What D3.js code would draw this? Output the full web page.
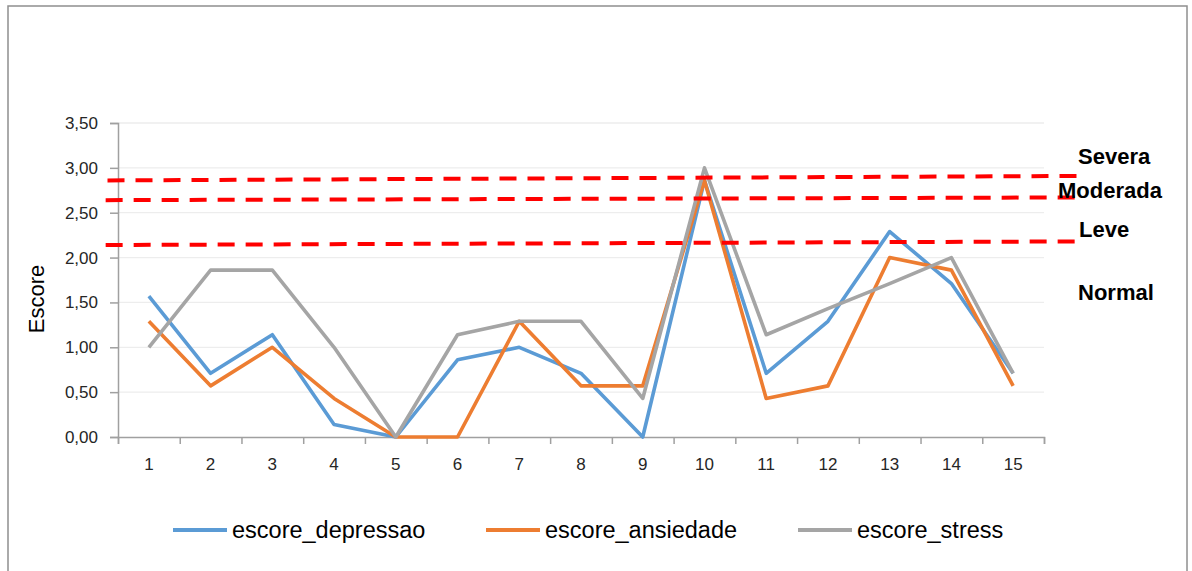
<!DOCTYPE html>
<html>
<head>
<meta charset="utf-8">
<script src="https://cdn.jsdelivr.net/npm/d3@7"></script>
<style>
  html, body { margin: 0; padding: 0; background: #fff; }
  svg { display: block; }
</style>
</head>
<body>
<svg id="chart" width="1192" height="571"></svg>
<script>
// Participants (x axis categories)
const categories = [1, 2, 3, 4, 5, 6, 7, 8, 9, 10, 11, 12, 13, 14, 15];

// DASS scores per participant
const depressao = [1.57, 0.71, 1.14, 0.14, 0.00, 0.86, 1.00, 0.71, 0.00, 2.86, 0.71, 1.29, 2.29, 1.71, 0.71];
const ansiedade = [1.29, 0.57, 1.00, 0.43, 0.00, 0.00, 1.29, 0.57, 0.57, 2.86, 0.43, 0.57, 2.00, 1.86, 0.57];
const stress    = [1.00, 1.86, 1.86, 1.00, 0.00, 1.14, 1.29, 1.29, 0.43, 3.00, 1.14, 1.43, 1.71, 2.00, 0.71];

const seriesNames = ["escore_depressao", "escore_ansiedade", "escore_stress"];
const seriesColors = ["#5B9BD5", "#ED7D31", "#A5A5A5"];

// Y axis tick values
const yTicks = [0, 0.5, 1.0, 1.5, 2.0, 2.5, 3.0, 3.5];

// Severity cut-off lines (hand-drawn, slightly tilted): value at left and right end,
// horizontal extent in category units
const cutNames  = ["Severa", "Moderada", "Leve"];
const cutStart  = [2.86, 2.64, 2.14];
const cutEnd    = [2.91, 2.67, 2.18];
const cutFrom   = [0.33, 0.30, 0.30];
const cutTo     = [16.05, 16.0, 16.0];

// Band labels on the right and the score level they sit at
const bandLabels = ["Severa", "Moderada", "Leve", "Normal"];
const bandLevels = [3.04, 2.66, 2.23, 1.53];
const bandOffset = [0, -20, 1, 0];

const svg = d3.select("#chart");
const W = 1192, H = 571;
const plot = { left: 118, right: 1044, top: 123, bottom: 437 };

// outer frame
svg.append("rect")
  .attr("x", 8).attr("y", 6)
  .attr("width", 1179).attr("height", 620)
  .attr("fill", "none").attr("stroke", "#8f8f8f").attr("stroke-width", 1.5);

const x = d3.scaleBand().domain(categories).range([plot.left, plot.right]).padding(0);
const xc = d => x(d) + x.bandwidth() / 2;
// continuous position in category units (category k centred at k)
const xu = d3.scaleLinear().domain([0.5, categories.length + 0.5]).range([plot.left, plot.right]);
const y = d3.scaleLinear().domain([0, 3.5]).range([plot.bottom, plot.top]);

const fmt = v => d3.format(".2f")(v).replace(".", ",");

// horizontal gridlines
svg.append("g").selectAll("line")
  .data(yTicks.filter(v => v > 0))
  .join("line")
  .attr("x1", plot.left).attr("x2", plot.right)
  .attr("y1", d => y(d)).attr("y2", d => y(d))
  .attr("stroke", "#ededed").attr("stroke-width", 1.3);

// Y axis
const yAxis = svg.append("g")
  .attr("transform", `translate(${plot.left},0)`)
  .call(d3.axisLeft(y).tickValues(yTicks).tickSize(8).tickPadding(12).tickFormat(fmt));
yAxis.select(".domain").attr("stroke", "#a0a0a0").attr("stroke-width", 1.5);
yAxis.selectAll(".tick line").attr("stroke", "#a0a0a0").attr("stroke-width", 1.5);
yAxis.selectAll("text")
  .attr("font-family", "'Liberation Sans', Arial, sans-serif")
  .attr("font-size", 17).attr("fill", "#262626");

// X axis: boundary ticks
const xBound = svg.append("g")
  .attr("transform", `translate(0,${plot.bottom})`)
  .call(d3.axisBottom(xu)
    .tickValues(d3.range(0.5, categories.length + 1, 1))
    .tickSize(7).tickFormat(""));
xBound.select(".domain").attr("stroke", "#a0a0a0").attr("stroke-width", 1.5);
xBound.selectAll(".tick line").attr("stroke", "#a0a0a0").attr("stroke-width", 1.5);

// X axis: category labels
const xLab = svg.append("g")
  .attr("transform", `translate(0,${plot.bottom})`)
  .call(d3.axisBottom(x).tickSize(0).tickPadding(21));
xLab.select(".domain").remove();
xLab.selectAll("text")
  .attr("font-family", "'Liberation Sans', Arial, sans-serif")
  .attr("font-size", 17).attr("fill", "#262626");

// Y title
svg.append("text")
  .attr("transform", "translate(44,299) rotate(-90)")
  .attr("text-anchor", "middle")
  .attr("font-family", "'Liberation Sans', Arial, sans-serif")
  .attr("font-size", 22).attr("fill", "#000")
  .text("Escore");

// series lines
const series = [depressao, ansiedade, stress];
const line = d3.line().x((d, i) => xc(categories[i])).y(d => y(d));
svg.append("g").selectAll("path")
  .data(series)
  .join("path")
  .attr("d", d => line(d))
  .attr("fill", "none")
  .attr("stroke", (d, i) => seriesColors[i])
  .attr("stroke-width", 3.6)
  .attr("stroke-linejoin", "round");

// cut-off dashed lines
svg.append("g").selectAll("line")
  .data(cutNames)
  .join("line")
  .attr("x1", (d, i) => xu(cutFrom[i]))
  .attr("x2", (d, i) => xu(cutTo[i]))
  .attr("y1", (d, i) => y(cutStart[i]))
  .attr("y2", (d, i) => y(cutEnd[i]))
  .attr("stroke", "#ff0000")
  .attr("stroke-width", 4)
  .attr("stroke-dasharray", "17 11");

// band labels
svg.append("g").selectAll("text")
  .data(bandLabels)
  .join("text")
  .attr("x", (d, i) => 1078 + bandOffset[i])
  .attr("y", (d, i) => y(bandLevels[i]))
  .attr("font-family", "'Liberation Sans', Arial, sans-serif")
  .attr("font-weight", "bold")
  .attr("font-size", 22)
  .attr("fill", "#000")
  .text(d => d);

// legend
const legendX = [173, 486, 798];
const legend = svg.append("g").selectAll("g")
  .data(seriesNames)
  .join("g")
  .attr("transform", (d, i) => `translate(${legendX[i]},530)`);
legend.append("line")
  .attr("x1", 0).attr("x2", 54).attr("y1", 0).attr("y2", 0)
  .attr("stroke", (d, i) => seriesColors[i])
  .attr("stroke-width", 4);
legend.append("text")
  .attr("x", 59).attr("y", 8)
  .attr("font-family", "'Liberation Sans', Arial, sans-serif")
  .attr("font-size", 23.5).attr("fill", "#000")
  .text(d => d);
</script>
</body>
</html>
